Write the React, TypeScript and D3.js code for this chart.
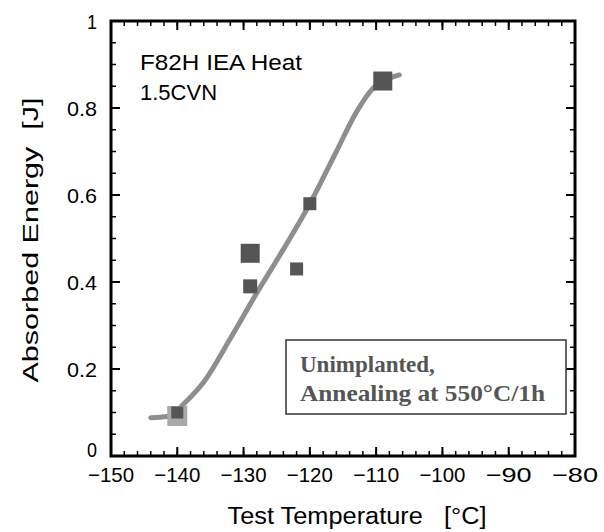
import React from "react";
import * as d3 from "d3";

// measured points (test temperature in °C, absorbed energy in J)
const darkPoints = [
  { t: -140, e: 0.10, s: 12 },
  { t: -129, e: 0.466, s: 19 },
  { t: -129, e: 0.39, s: 14 },
  { t: -122, e: 0.43, s: 13 },
  { t: -120, e: 0.58, s: 13 },
  { t: -109, e: 0.862, s: 19 },
];
const lightPoints = [{ t: -140, e: 0.092, s: 20 }];

// fitted transition curve
const curveT = [-144, -141, -139, -136, -132, -128, -124, -120, -116, -113, -110.5, -108.5, -106.5];
const curveE = [0.088, 0.092, 0.12, 0.17, 0.27, 0.375, 0.475, 0.58, 0.7, 0.79, 0.845, 0.865, 0.876];

const xTicks = [-150, -140, -130, -120, -110, -100, -90, -80];
const yTicks = [0, 0.2, 0.4, 0.6, 0.8, 1];
const yTickLabels = ["0", "0.2", "0.4", "0.6", "0.8", "1"];

const labelFont = "'Liberation Sans', Arial, sans-serif";
const serifFont = "'Liberation Serif', 'Times New Roman', serif";

export default function App() {
  const left = 111, right = 575, top = 21, bottom = 456;
  const x = d3.scaleLinear().domain([-150, -80]).range([left, right]);
  const y = d3.scaleLinear().domain([0, 1]).range([bottom, top]);

  const xMinor = d3.range(-150, -79, 2);
  const yMinor = d3.range(0, 1.001, 0.05);

  const line = d3
    .line<number>()
    .x((d, i) => x(curveT[i]))
    .y((d) => y(d))
    .curve(d3.curveMonotoneX);

  return (
    <svg width={604} height={532} style={{ position: "absolute", left: 0, top: 0, background: "#fff" }}>
      {/* minor ticks */}
      {xMinor.map((t) => (
        <g key={"xm" + t} stroke="#000" strokeWidth={1.5}>
          <line x1={x(t)} x2={x(t)} y1={bottom} y2={bottom - 5} />
          <line x1={x(t)} x2={x(t)} y1={top} y2={top + 5} />
        </g>
      ))}
      {yMinor.map((v) => (
        <g key={"ym" + v} stroke="#000" strokeWidth={1.5}>
          <line x1={left} x2={left + 5} y1={y(v)} y2={y(v)} />
          <line x1={right} x2={right - 5} y1={y(v)} y2={y(v)} />
        </g>
      ))}
      {/* major ticks */}
      {xTicks.map((t) => (
        <g key={"xt" + t} stroke="#000" strokeWidth={2}>
          <line x1={x(t)} x2={x(t)} y1={bottom} y2={bottom - 9} />
          <line x1={x(t)} x2={x(t)} y1={top} y2={top + 9} />
        </g>
      ))}
      {yTicks.map((v) => (
        <g key={"yt" + v} stroke="#000" strokeWidth={2}>
          <line x1={left} x2={left + 9} y1={y(v)} y2={y(v)} />
          <line x1={right} x2={right - 9} y1={y(v)} y2={y(v)} />
        </g>
      ))}
      <rect x={left} y={top} width={right - left} height={bottom - top} fill="none" stroke="#000" strokeWidth={3} />

      {/* tick labels */}
      {xTicks.map((t) => (
        <text key={"xl" + t} x={x(t)} y={bottom + 26} textAnchor="middle" fontFamily={labelFont} fontSize={21}
          textLength={46} lengthAdjust="spacingAndGlyphs" fill="#000">
          {"\u2212" + Math.abs(t)}
        </text>
      ))}
      {yTicks.map((v, i) => (
        <text key={"yl" + v} x={left - 14} y={y(v) + (i === 0 ? 1 : 8)} textAnchor="end" fontFamily={labelFont} fontSize={21}
          textLength={yTickLabels[i].length * 10} lengthAdjust="spacingAndGlyphs" fill="#000">
          {yTickLabels[i]}
        </text>
      ))}

      {/* axis titles */}
      <text x={357} y={524} textAnchor="middle" fontFamily={labelFont} fontSize={23} fill="#000"
        textLength={259} lengthAdjust="spacingAndGlyphs" xmlSpace="preserve">
        {"Test Temperature   [°C]"}
      </text>
      <text transform="translate(38,240) rotate(-90)" textAnchor="middle" fontFamily={labelFont} fontSize={22} fill="#000"
        textLength={285} lengthAdjust="spacingAndGlyphs" xmlSpace="preserve">
        {"Absorbed Energy  [J]"}
      </text>

      {/* inner labels */}
      <text x={140} y={70} fontFamily={labelFont} fontSize={22} fill="#000" textLength={162} lengthAdjust="spacingAndGlyphs">
        F82H IEA Heat
      </text>
      <text x={140} y={100} fontFamily={labelFont} fontSize={22} fill="#000">
        1.5CVN
      </text>

      {/* curve */}
      <path d={line(curveE) || ""} fill="none" stroke="#8e8e8e" strokeWidth={5} strokeLinecap="round" />

      {/* points */}
      {lightPoints.map((p, i) => (
        <rect key={"lp" + i} x={x(p.t) - p.s / 2} y={y(p.e) - p.s / 2} width={p.s} height={p.s} fill="#a9a9a9" />
      ))}
      {darkPoints.map((p, i) => (
        <rect key={"dp" + i} x={x(p.t) - p.s / 2} y={y(p.e) - p.s / 2} width={p.s} height={p.s} fill="#555555" />
      ))}

      {/* annotation box */}
      <rect x={286} y={340} width={280} height={74} fill="#fff" stroke="#333" strokeWidth={1.5} />
      <text x={300} y={372} fontFamily={serifFont} fontWeight="bold" fontSize={23} fill="#555">
        Unimplanted,
      </text>
      <text x={300} y={401} fontFamily={serifFont} fontWeight="bold" fontSize={23} fill="#555"
        textLength={245} lengthAdjust="spacingAndGlyphs">
        Annealing at 550°C/1h
      </text>
    </svg>
  );
}
